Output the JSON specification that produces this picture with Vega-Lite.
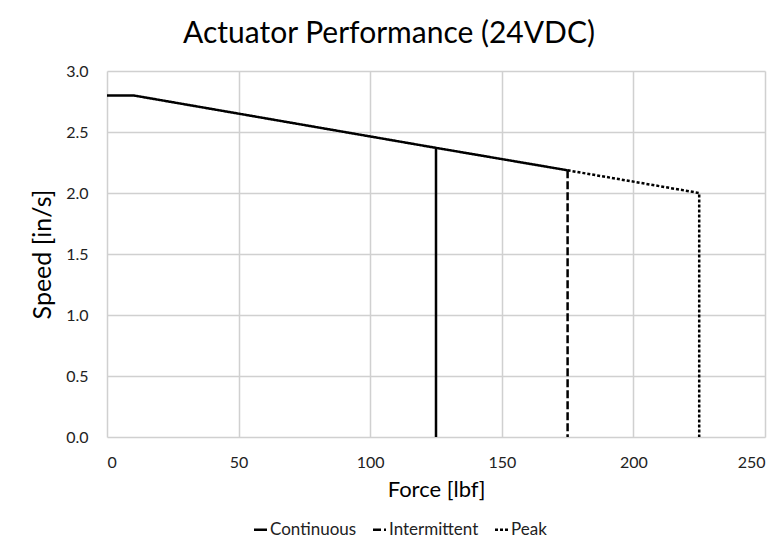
{
  "$schema": "https://vega.github.io/schema/vega-lite/v6.json",
  "width": 658,
  "height": 366,
  "autosize": {"type": "none"},
  "padding": {"left": 107, "top": 71, "right": 13, "bottom": 108},
  "background": "white",
  "title": {
    "text": "Actuator Performance (24VDC)",
    "font": "Lato",
    "fontSize": 30,
    "fontWeight": "normal",
    "color": "#000000",
    "anchor": "middle",
    "dx": -47,
    "offset": 14
  },
  "data": {
    "values": [
      {"series": "Continuous", "part": "c1", "force": 0, "speed": 2.8, "ord": 1},
      {"series": "Continuous", "part": "c1", "force": 10, "speed": 2.8, "ord": 2},
      {"series": "Continuous", "part": "c1", "force": 125, "speed": 2.37, "ord": 3},
      {"series": "Continuous", "part": "c1", "force": 175, "speed": 2.186, "ord": 4},
      {"series": "Continuous", "part": "c2", "force": 125, "speed": 2.37, "ord": 1},
      {"series": "Continuous", "part": "c2", "force": 125, "speed": 0, "ord": 2},
      {"series": "Intermittent", "part": "i1", "force": 175, "speed": 2.186, "ord": 1},
      {"series": "Intermittent", "part": "i1", "force": 175, "speed": 0, "ord": 2},
      {"series": "Peak", "part": "p1", "force": 175, "speed": 2.186, "ord": 1},
      {"series": "Peak", "part": "p1", "force": 225, "speed": 2.0, "ord": 2},
      {"series": "Peak", "part": "p1", "force": 225, "speed": 0, "ord": 3}
    ]
  },
  "mark": {"type": "line", "color": "#000000", "strokeWidth": 2.5, "strokeCap": "butt"},
  "encoding": {
    "x": {
      "field": "force",
      "type": "quantitative",
      "scale": {"domain": [0, 250], "nice": false},
      "axis": {
        "title": "Force [lbf]",
        "values": [0, 50, 100, 150, 200, 250],
        "format": "d",
        "labelPadding": 17,
        "titlePadding": 9,
        "titleFontSize": 22
      }
    },
    "y": {
      "field": "speed",
      "type": "quantitative",
      "scale": {"domain": [0, 3], "nice": false},
      "axis": {
        "title": "Speed [in/s]",
        "values": [0, 0.5, 1, 1.5, 2, 2.5, 3],
        "format": ".1f",
        "labelPadding": 19,
        "titlePadding": 10,
        "titleFontSize": 25
      }
    },
    "order": {"field": "ord", "type": "quantitative"},
    "detail": {"field": "part"},
    "strokeDash": {
      "field": "series",
      "type": "nominal",
      "scale": {
        "domain": ["Continuous", "Intermittent", "Peak"],
        "range": [[1, 0], [8, 3], [3, 2]]
      },
      "legend": {
        "title": null,
        "orient": "none",
        "direction": "horizontal",
        "legendX": 145,
        "legendY": 450,
        "symbolType": "stroke",
        "symbolStrokeColor": "#000000",
        "symbolStrokeWidth": 2.5,
        "symbolSize": 169,
        "labelFont": "Lato",
        "labelFontSize": 17,
        "labelColor": "#222222",
        "labelOffset": 1,
        "columnPadding": 11
      }
    }
  },
  "config": {
    "view": {"stroke": null},
    "axis": {
      "domain": false,
      "ticks": false,
      "tickSize": 0,
      "grid": true,
      "gridColor": "#d0d0d0",
      "gridWidth": 1.5,
      "labelFont": "Lato",
      "labelFontSize": 16,
      "labelColor": "#222222",
      "titleFont": "Lato",
      "titleFontWeight": "normal",
      "titleColor": "#000000"
    }
  }
}
